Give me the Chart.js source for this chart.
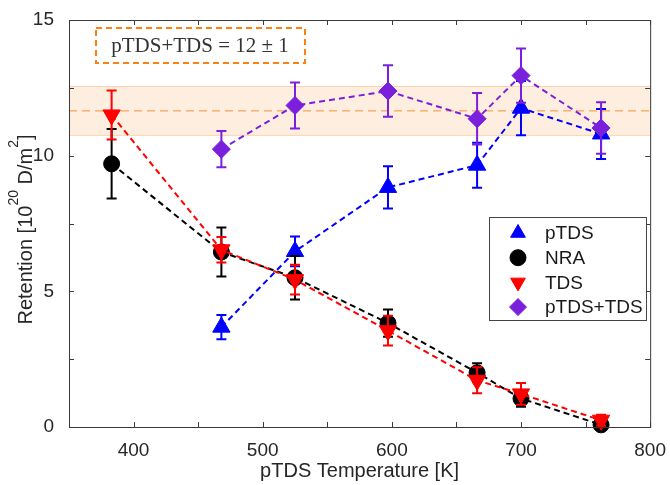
<!DOCTYPE html>
<html>
<head>
<meta charset="utf-8">
<script src="https://cdn.jsdelivr.net/npm/chart.js@4.4.0/dist/chart.umd.min.js"></script>
<style>
  html, body { margin: 0; padding: 0; background: #fff; }
  canvas { display: block; }
</style>
</head>
<body>
<canvas id="chart" width="670" height="485"></canvas>
<script>
// temperatures [K]
const tempsPTDS = [468, 525, 597, 666, 700, 762];
const tempsAll = [383, 468, 525, 597, 666, 700, 762];

// retention [1e20 D/m^2] and uncertainties
const pTDS = [3.68, 6.47, 8.83, 9.65, 11.75, 10.8];
const pTDSErr = [0.45, 0.55, 0.78, 0.83, 1.0, 0.92];
const nra = [9.7, 6.45, 5.5, 3.83, 2.0, 1.05, 0.08];
const nraErr = [1.28, 0.9, 0.8, 0.5, 0.35, 0.3, 0.1];
const tds = [11.5, 6.53, 5.43, 3.55, 1.72, 1.22, 0.25];
const tdsErr = [0.9, 0.47, 0.55, 0.55, 0.48, 0.4, 0.2];
const sum = [10.24, 11.85, 12.38, 11.36, 12.95, 11.02];
const sumErr = [0.67, 0.85, 0.95, 0.95, 1.0, 0.95];

// mean band of pTDS+TDS
const bandLow = 10.75;
const bandHigh = 12.55;
const bandMean = 11.65;

const xTicks = [400, 500, 600, 700, 800];
const yTicks = [0, 5, 10, 15];

const FONT = '"Liberation Sans", Arial, sans-serif';
const AXIS = '#3a3a3a';
const TEXT = '#262626';

const pts = (xs, ys) => xs.map((x, i) => ({ x: x, y: ys[i] }));

function makeSet(label, xs, ys, errs, color, style, radius, rot, order) {
  return {
    label, data: pts(xs, ys), errors: errs,
    borderColor: color, backgroundColor: color,
    pointBackgroundColor: color, pointBorderColor: color,
    pointStyle: style, pointRadius: radius, pointRotation: rot,
    pointBorderWidth: 1,
    showLine: true, borderWidth: 2, borderDash: [6, 4],
    clip: false, order: order
  };
}

const datasets = [
  makeSet('pTDS+TDS', tempsPTDS, sum, sumErr, '#7a1fdc', 'rectRot', 9, 0, 0),
  makeSet('TDS', tempsAll, tds, tdsErr, '#ff0000', 'triangle', 10, 180, 1),
  makeSet('NRA', tempsAll, nra, nraErr, '#000000', 'circle', 8, 0, 2),
  makeSet('pTDS', tempsPTDS, pTDS, pTDSErr, '#0000ff', 'triangle', 10, 0, 3)
];

const legendOrder = ['pTDS', 'NRA', 'TDS', 'pTDS+TDS'];

const errorBars = {
  id: 'errorBars',
  beforeDatasetDraw(chart, args) {
    const ds = chart.data.datasets[args.index];
    const ys = chart.scales.y;
    const ctx = chart.ctx;
    ctx.save();
    ctx.strokeStyle = ds.borderColor;
    ctx.lineWidth = 2;
    args.meta.data.forEach((p, i) => {
      const v = ds.data[i].y, e = ds.errors[i];
      const top = ys.getPixelForValue(v + e);
      const bot = ys.getPixelForValue(v - e);
      ctx.beginPath();
      ctx.moveTo(p.x, top); ctx.lineTo(p.x, bot);
      ctx.moveTo(p.x - 5, top); ctx.lineTo(p.x + 5, top);
      ctx.moveTo(p.x - 5, bot); ctx.lineTo(p.x + 5, bot);
      ctx.stroke();
    });
    ctx.restore();
  }
};

const band = {
  id: 'band',
  beforeDatasetsDraw(chart) {
    const { ctx, chartArea: a, scales: { y } } = chart;
    const t = y.getPixelForValue(bandHigh), b = y.getPixelForValue(bandLow);
    const m = y.getPixelForValue(bandMean);
    ctx.save();
    ctx.fillStyle = 'rgba(253,232,212,0.75)';
    ctx.fillRect(a.left, t, a.right - a.left, b - t);
    ctx.strokeStyle = '#fbd3ae';
    ctx.lineWidth = 1;
    ctx.beginPath();
    ctx.moveTo(a.left, t); ctx.lineTo(a.right, t);
    ctx.moveTo(a.left, b); ctx.lineTo(a.right, b);
    ctx.stroke();
    ctx.strokeStyle = '#f5913c';
    ctx.setLineDash([8, 5]);
    ctx.beginPath();
    ctx.moveTo(a.left, m); ctx.lineTo(a.right, m);
    ctx.stroke();
    ctx.restore();
  }
};

// text pieces with superscripts: [text, isSup]
function drawRich(ctx, parts, cx, cy, size) {
  const big = size + 'px ' + FONT, small = Math.round(size * 0.68) + 'px ' + FONT;
  let w = 0;
  parts.forEach(([t, sup]) => { ctx.font = sup ? small : big; w += ctx.measureText(t).width; });
  let x = cx - w / 2;
  ctx.textAlign = 'left';
  ctx.textBaseline = 'alphabetic';
  parts.forEach(([t, sup]) => {
    ctx.font = sup ? small : big;
    ctx.fillText(t, x, cy + (sup ? -size * 0.36 : size * 0.36));
    x += ctx.measureText(t).width;
  });
}

const frame = {
  id: 'frame',
  afterDatasetsDraw(chart) {
    const { ctx, chartArea: a, scales: { x, y } } = chart;
    ctx.save();
    ctx.strokeStyle = AXIS;
    ctx.lineWidth = 1;
    ctx.strokeRect(a.left + 0.5, a.top + 0.5, a.right - a.left, a.bottom - a.top);
    ctx.beginPath();
    for (let v = 350; v <= 800; v += 50) {
      const px = Math.round(x.getPixelForValue(v)) + 0.5;
      ctx.moveTo(px, a.bottom); ctx.lineTo(px, a.bottom - 5);
      ctx.moveTo(px, a.top); ctx.lineTo(px, a.top + 5);
    }
    for (let v = 0; v <= 15; v += 2.5) {
      const py = Math.round(y.getPixelForValue(v)) + 0.5;
      ctx.moveTo(a.left, py); ctx.lineTo(a.left + 5, py);
      ctx.moveTo(a.right, py); ctx.lineTo(a.right - 5, py);
    }
    ctx.stroke();

    // axis titles
    ctx.fillStyle = TEXT;
    drawRich(ctx, [['pTDS Temperature [K]', false]], (a.left + a.right) / 2, 470, 20);
    ctx.save();
    ctx.translate(25, (a.top + a.bottom) / 2 + 6);
    ctx.rotate(-Math.PI / 2);
    drawRich(ctx, [['Retention [10', false], ['20', true], [' D/m', false], ['2', true], [']', false]], 0, 0, 20);
    ctx.restore();

    // annotation box
    ctx.strokeStyle = '#ff7f10';
    ctx.lineWidth = 2;
    ctx.setLineDash([6, 4]);
    ctx.strokeRect(96, 28, 209, 35);
    ctx.setLineDash([]);
    ctx.fillStyle = '#333';
    ctx.font = '21px "Liberation Serif", "DejaVu Serif", serif';
    ctx.textAlign = 'center';
    ctx.textBaseline = 'middle';
    ctx.fillText('pTDS+TDS = 12 \u00b1 1', 200, 46);

    // legend
    ctx.fillStyle = '#fff';
    ctx.fillRect(489, 217, 157, 103);
    ctx.strokeStyle = '#444';
    ctx.lineWidth = 1;
    ctx.strokeRect(489.5, 217.5, 157, 103);
    ctx.font = '19px ' + FONT;
    ctx.textAlign = 'left';
    ctx.textBaseline = 'middle';
    legendOrder.forEach((name, i) => {
      const ds = chart.data.datasets.find(d => d.label === name);
      const cy = 233 + i * 24.7;
      ctx.fillStyle = ds.backgroundColor;
      ctx.strokeStyle = ds.borderColor;
      Chart.helpers.drawPoint(ctx, {
        pointStyle: ds.pointStyle, radius: ds.pointStyle === 'circle' ? 8 : 8.5,
        rotation: ds.pointRotation, borderWidth: 1
      }, 518, cy);
      ctx.fillStyle = '#1a1a1a';
      ctx.fillText(name, 545, cy + 1);
    });
    ctx.restore();
  }
};

new Chart(document.getElementById('chart'), {
  type: 'scatter',
  data: { datasets },
  options: {
    responsive: false,
    animation: false,
    devicePixelRatio: 1,
    layout: { padding: { top: 20, right: 18, left: 0, bottom: 0 } },
    plugins: { legend: { display: false }, tooltip: { enabled: false } },
    scales: {
      x: {
        type: 'linear', min: 350, max: 800,
        grid: { display: false }, border: { display: false },
        afterBuildTicks: s => { s.ticks = xTicks.map(v => ({ value: v })); },
        ticks: { font: { size: 19, family: FONT }, color: TEXT, padding: 4, maxRotation: 0 },
        afterFit: s => { s.height = 58; }
      },
      y: {
        type: 'linear', min: 0, max: 15,
        grid: { display: false }, border: { display: false },
        afterBuildTicks: s => { s.ticks = yTicks.map(v => ({ value: v })); },
        ticks: { font: { size: 19, family: FONT }, color: TEXT, padding: 7 },
        afterFit: s => { s.width = 69; }
      }
    }
  },
  plugins: [band, errorBars, frame]
});
</script>
</body>
</html>
